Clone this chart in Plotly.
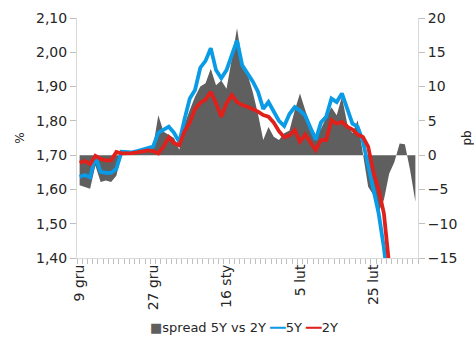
import pandas as pd
import plotly.graph_objects as go

# Business days, 9 Dec 2013 - 7 Mar 2014
dates = pd.bdate_range("2013-12-09", "2014-03-07")
month_pl = ["sty", "lut", "mar", "kwi", "maj", "cze", "lip", "sie", "wrz", "paź", "lis", "gru"]
label_every = 14

# 5Y yield, %
yield_5y = [1.637, 1.642, 1.635, 1.697, 1.651, 1.648, 1.648, 1.660, 1.710, 1.709,
            1.708, 1.712, 1.716, 1.722, 1.725, 1.765, 1.775, 1.783, 1.765, 1.738,
            1.805, 1.865, 1.890, 1.955, 1.975, 2.012, 1.948, 1.924, 1.948, 1.996,
            2.035, 1.962, 1.940, 1.915, 1.885, 1.835, 1.855, 1.830, 1.800, 1.785,
            1.820, 1.840, 1.830, 1.815, 1.780, 1.745, 1.795, 1.812, 1.865, 1.855,
            1.880, 1.835, 1.792, 1.783, 1.740, 1.670, 1.605, 1.530, 1.430, 1.300,
            None, None, None, None, None]

# 2Y yield, %
yield_2y = [1.678, 1.683, 1.674, 1.698, 1.689, 1.685, 1.685, 1.709, 1.705, 1.705,
            1.706, 1.708, 1.710, 1.714, 1.712, 1.705, 1.725, 1.752, 1.735, 1.729,
            1.770, 1.795, 1.835, 1.852, 1.862, 1.885, 1.851, 1.812, 1.851, 1.875,
            1.855, 1.846, 1.841, 1.835, 1.827, 1.817, 1.812, 1.795, 1.770, 1.752,
            1.758, 1.773, 1.739, 1.760, 1.735, 1.715, 1.744, 1.744, 1.802, 1.792,
            1.797, 1.783, 1.775, 1.760, 1.753, 1.725, 1.650, 1.600, 1.530, 1.380,
            None, None, None, None, None]

# 5Y - 2Y spread, bp
spread_bp = [-4.4, -4.6, -4.9, -1.5, -3.9, -3.7, -3.9, -3.0, 0.2, 0.3,
             0.2, 0.4, 0.6, 0.9, 1.2, 5.8, 3.4, 3.0, 2.5, 0.8,
             4.5, 6.6, 8.5, 10.0, 10.5, 12.6, 10.2, 10.9, 9.7, 14.0,
             18.5, 13.6, 11.8, 9.2, 6.0, 2.2, 4.1, 2.7, 2.2, 3.2,
             3.6, 6.5, 9.0, 6.6, 4.3, 3.0, 3.8, 5.5, 7.0, 5.8,
             8.5, 4.6, 3.2, 5.1, 0.3, -4.6, -5.8, -8.3, -6.5, -2.7,
             -1.0, 1.7, 1.6, -2.2, -6.8]

series_names = ["spread 5Y vs 2Y", "5Y", "2Y"]

pos = list(range(len(dates)))
tick_pos = pos[::label_every]
tick_text = [f"{dates[i].day} {month_pl[dates[i].month - 1]}" for i in tick_pos]

GRAY = "#5f5f5f"
BLUE = "#0a9be6"
RED = "#e0211b"
AXIS = "#d9d9d9"
TEXT = "#262626"
FONT = "DejaVu Sans"

fig = go.Figure()
fig.add_trace(go.Scatter(x=pos, y=spread_bp, name=series_names[0], mode="lines",
                         fill="tozeroy", fillcolor=GRAY,
                         line=dict(width=0, color=GRAY), yaxis="y"))
fig.add_trace(go.Scatter(x=pos, y=yield_5y, name=series_names[1], mode="lines",
                         line=dict(color=BLUE, width=3.8), yaxis="y2"))
fig.add_trace(go.Scatter(x=pos, y=yield_2y, name=series_names[2], mode="lines",
                         line=dict(color=RED, width=3.8), yaxis="y2"))

# Compact legend line below the chart
legend_text = (
    f'<span style="color:{GRAY}">■</span>{series_names[0]} '
    f'<span style="color:{BLUE}"><b>━━</b></span>{series_names[1]} '
    f'<span style="color:{RED}"><b>━━</b></span>{series_names[2]}'
)

fig.update_layout(
    width=474, height=337,
    margin=dict(l=77, r=56, t=18, b=79, autoexpand=False),
    paper_bgcolor="white", plot_bgcolor="white",
    separators=", ",
    font=dict(family=FONT, size=14, color=TEXT),
    showlegend=False,
    annotations=[dict(text=legend_text, xref="paper", yref="paper", x=0.49, y=-0.29,
                      xanchor="center", yanchor="middle", showarrow=False,
                      font=dict(size=13, color=TEXT))],
    xaxis=dict(range=[-0.5, len(pos) - 0.5], tickmode="array", tickvals=tick_pos,
               ticktext=tick_text, tickangle=-90, ticks="", showgrid=False,
               zeroline=False, showline=True, linecolor=AXIS, linewidth=1,
               automargin=False,
               minor=dict(ticks="outside", tick0=-0.5, dtick=1, ticklen=5,
                          tickcolor="#bfbfbf", showgrid=False)),
    yaxis=dict(side="right", range=[-15, 20], dtick=5, tick0=0, ticks="outside",
               ticklen=6, tickcolor="#bfbfbf", showgrid=False, zeroline=False,
               showline=True, linecolor=AXIS, linewidth=1, automargin=False,
               title=dict(text="pb", standoff=26, font=dict(size=12))),
    yaxis2=dict(side="left", overlaying="y", range=[1.40, 2.10], dtick=0.1, tick0=1.4,
                tickformat=".2f", ticks="outside", ticklen=6, tickcolor="#bfbfbf",
                showgrid=False, zeroline=False, showline=True, linecolor=AXIS,
                linewidth=1, automargin=False,
                title=dict(text="%", standoff=8, font=dict(size=12))),
)

fig.write_html("out.html")
